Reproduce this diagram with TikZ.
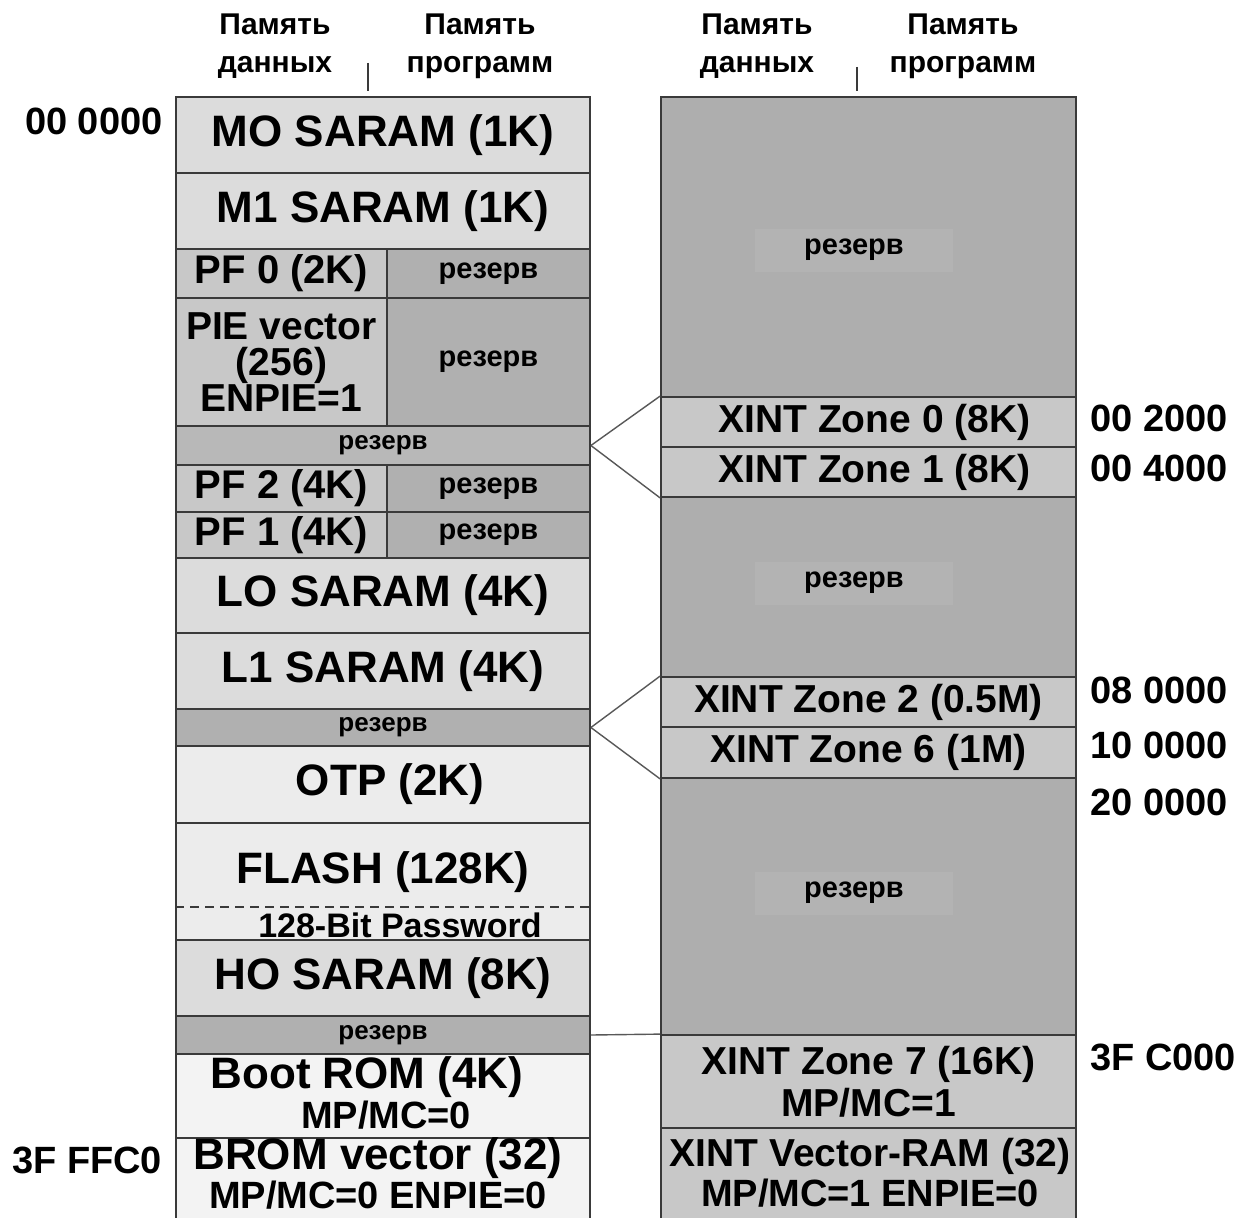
\documentclass[tikz,border=0pt]{standalone}
\usepackage{fontspec}
\setmainfont{Liberation Sans}
\definecolor{linec}{HTML}{3A3A3A}
\definecolor{lightA}{HTML}{DCDCDC}
\definecolor{lightB}{HTML}{ECECEC}
\definecolor{lightC}{HTML}{F3F3F3}
\definecolor{midg}{HTML}{C8C8C8}
\definecolor{darkg}{HTML}{B0B0B0}
\definecolor{darkh}{HTML}{B8B8B8}
\definecolor{rsv}{HTML}{AEAEAE}
\definecolor{rsvlab}{HTML}{B3B3B3}
\newcommand\fsz[1]{\fontsize{#1}{#1}\selectfont\bfseries}
\newcommand\mcell[7]{%
  \node[cell,#6,minimum width={(#4-#2)*1pt},minimum height={(#5-#3)*1pt}] (#1) at ({(#2+#4)/2},{(#3+#5)/2}) {#7};}
\tikzset{
  cell/.style={draw=linec, line width=1.8pt, inner sep=0pt, align=center},
  big/.style={font=\fsz{44}},
  med/.style={font=\fsz{40}},
  xint/.style={font=\fsz{39}},
  rz/.style={font=\fsz{29}},
  rzs/.style={font=\fsz{26}},
  hdr/.style={font=\fontsize{30}{38}\selectfont\bfseries, align=center, inner sep=0pt},
  addr/.style={font=\fsz{38}, anchor=west, inner sep=0pt},
  txt/.style={inner sep=0pt, align=center},
  conn/.style={draw=linec!85, line width=1.4pt},
  tick/.style={draw=linec, line width=2.2pt},
}
\begin{document}
\begin{tikzpicture}[x=1pt,y=-1pt]
\useasboundingbox[fill=white] (0,0) rectangle (1246,1217);
% ---------- headers ----------
\node[hdr] (h1) at (275,46) {Память\\данных};
\node[hdr] (h2) at (480,46) {Память\\программ};
\node[hdr] (h3) at (757,46) {Память\\данных};
\node[hdr] (h4) at (963,46) {Память\\программ};
\coordinate (t1a) at (368,63); \coordinate (t1b) at (368,91);
\coordinate (t2a) at (857,67); \coordinate (t2b) at (857,91);
\draw[tick] (t1a) -- (t1b);
\draw[tick] (t2a) -- (t2b);
% ---------- left column ----------
\mcell{m0}{176}{97}{590}{173}{fill=lightA,big}{MO SARAM (1K)}
\mcell{m1}{176}{173}{590}{249}{fill=lightA,big}{M1 SARAM (1K)}
\mcell{pf0}{176}{249}{387}{298}{fill=midg,med}{PF 0 (2K)}
\mcell{r1}{387}{249}{590}{298}{fill=darkg,rz}{резерв}
\mcell{pie}{176}{298}{387}{426}{fill=midg,font=\fontsize{39}{36}\selectfont\bfseries}{PIE vector\\(256)\\ENPIE=1}
\mcell{r2}{387}{298}{590}{426}{fill=darkg,rz}{резерв}
\mcell{r3}{176}{426}{590}{465}{fill=darkh,rzs}{резерв}
\mcell{pf2}{176}{465}{387}{512}{fill=midg,med}{PF 2 (4K)}
\mcell{r4}{387}{465}{590}{512}{fill=darkg,rz}{резерв}
\mcell{pf1}{176}{512}{387}{558}{fill=midg,med}{PF 1 (4K)}
\mcell{r5}{387}{512}{590}{558}{fill=darkg,rz}{резерв}
\mcell{l0}{176}{558}{590}{633}{fill=lightA,big}{LO SARAM (4K)}
\mcell{l1}{176}{633}{590}{709}{fill=lightA,big}{L1 SARAM (4K)}
\mcell{r6}{176}{709}{590}{746}{fill=darkg,rzs}{резерв}
\mcell{otp}{176}{746}{590}{823}{fill=lightB,big}{\hspace*{14pt}OTP (2K)}
\mcell{fl}{176}{823}{590}{940}{fill=lightB}{}
\node[txt,big] (flt) at (383,872) {FLASH (128K)};
\draw[dashed, dash pattern=on 9pt off 6pt, draw=linec, line width=1.4pt] (fl.west |- 0,907) coordinate (dA) -- (fl.east |- 0,907) coordinate (dB);
\node[txt,font=\fsz{34}] (pw) at (400,925) {128-Bit Password};
\mcell{h0}{176}{940}{590}{1016}{fill=lightA,big}{HO SARAM (8K)}
\mcell{r7}{176}{1016}{590}{1054}{fill=darkg,rzs}{резерв}
\mcell{boot}{176}{1054}{590}{1138}{fill=lightC}{}
\node[txt,big] (bt1) at (367,1077) {Boot ROM (4K)};
\node[txt,font=\fsz{38}] (bt2) at (386,1115) {MP/MC=0};
\mcell{brom}{176}{1138}{590}{1225}{fill=lightC}{}
\node[txt,big] (br1) at (378,1158) {BROM vector (32)};
\node[txt,font=\fsz{38}] (br2) at (378,1195) {MP/MC=0 ENPIE=0};
% ---------- right column ----------
\mcell{rr1}{661}{97}{1076}{397}{fill=rsv}{}
\node[txt,rz,fill=rsvlab,minimum width=198pt,minimum height=43pt] (rl1) at (854,250) {резерв};
\mcell{z0}{661}{397}{1076}{447}{fill=midg,xint}{\hspace*{12pt}XINT Zone 0 (8K)}
\mcell{z1}{661}{447}{1076}{497}{fill=midg,xint}{\hspace*{12pt}XINT Zone 1 (8K)}
\mcell{rr2}{661}{497}{1076}{677}{fill=rsv}{}
\node[txt,rz,fill=rsvlab,minimum width=198pt,minimum height=43pt] (rl2) at (854,583) {резерв};
\mcell{z2}{661}{677}{1076}{727}{fill=midg,xint}{XINT Zone 2 (0.5M)}
\mcell{z6}{661}{727}{1076}{778}{fill=midg,xint}{XINT Zone 6 (1M)}
\mcell{rr3}{661}{778}{1076}{1035}{fill=rsv}{}
\node[txt,rz,fill=rsvlab,minimum width=198pt,minimum height=43pt] (rl3) at (854,893) {резерв};
\mcell{z7}{661}{1035}{1076}{1128}{fill=midg,font=\fontsize{39}{42}\selectfont\bfseries}{XINT Zone 7 (16K)\\MP/MC=1}
\mcell{zv}{661}{1128}{1076}{1225}{fill=midg}{}
\node[txt,xint] (zv1) at (870,1156) {XINT Vector-RAM (32)};
\node[txt,font=\fsz{38}] (zv2) at (870,1193) {MP/MC=1 ENPIE=0};
% ---------- connectors ----------
\draw[conn] (r3.east) -- (z0.north west);
\draw[conn] (r3.east) -- (z1.south west);
\draw[conn] (r6.east) -- (z2.north west);
\draw[conn] (r6.east) -- (z6.south west);
\draw[conn] (r7.east) -- (z7.north west);
% ---------- addresses ----------
\node[addr] (a0) at (25,121) {00 0000};
\node[addr] (a1) at (1090,418) {00 2000};
\node[addr] (a2) at (1090,468) {00 4000};
\node[addr] (a3) at (1090,690) {08 0000};
\node[addr] (a4) at (1090,745) {10 0000};
\node[addr] (a5) at (1090,802) {20 0000};
\node[addr] (a6) at (1090,1057) {3F C000};
\node[addr] (a7) at (12,1160) {3F FFC0};
\end{tikzpicture}
\end{document}
